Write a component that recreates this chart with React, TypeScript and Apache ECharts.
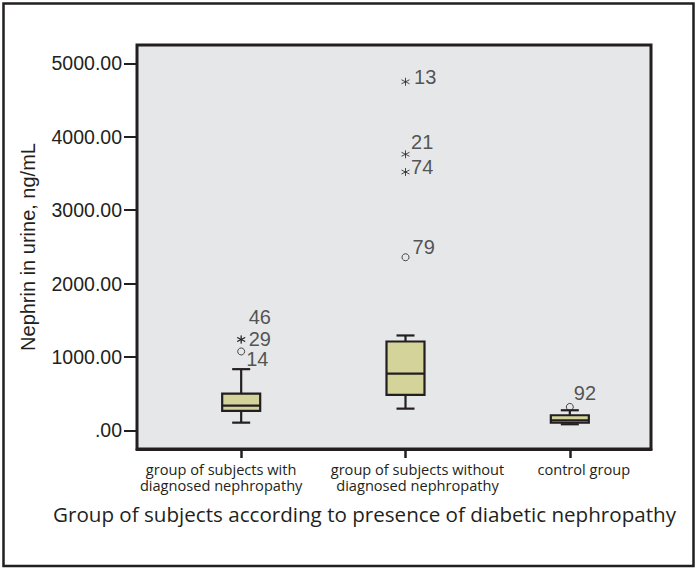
import React, { useEffect, useRef } from "react";
import * as echarts from "echarts";

// ---- data ----
const categories = [
  "group of subjects with\ndiagnosed nephropathy",
  "group of subjects without\ndiagnosed nephropathy",
  "control group",
];
const groupPositions = [1, 2, 3];
const whiskerMin = [104, 295, 82];
const quartile1 = [264, 482, 104];
const medians = [336, 773, 137];
const quartile3 = [500, 1210, 205];
const whiskerMax = [833, 1292, 273];

const outlierIds = ["13", "21", "74", "79", "46", "29", "14", "92"];
const outlierGroup = [2, 2, 2, 2, 1, 1, 1, 3];
const outlierValues = [4749, 3761, 3519, 2358, 1240, 1234, 1074, 318];
const outlierKind = ["extreme", "extreme", "extreme", "outlier", "extreme", "extreme", "outlier", "outlier"];

const yTickValues = [0, 1000, 2000, 3000, 4000, 5000];
const Y_MIN = -255;
const Y_MAX = 5250;
const X_MIN = 0.366;
const X_MAX = 3.494;

// ---- presentation ----
const categoryLabelAnchors = [0.878, 2.073, 3.085];
const outlierLabelOffset: Record<string, [number, number]> = {
  "13": [4, -5],
  "21": [1, -12],
  "74": [1, -5],
  "79": [3, -10],
  "46": [3, -22],
  "29": [3, -1],
  "14": [1, 8],
  "92": [0, -14],
};
const DARK = "#231f20";
const BOX_FILL = "#d3d39a";
const PLOT_BG = "#e6e7e8";
const ASTERISK = "path://M5,0L5,10M0.67,2.5L9.33,7.5M0.67,7.5L9.33,2.5";

export default function App() {
  const ref = useRef<HTMLDivElement>(null);

  useEffect(() => {
    if (!ref.current) return;
    const chart = echarts.init(ref.current, undefined, { renderer: "svg" });

    const boxData = groupPositions.map((p, i) => [
      p,
      whiskerMin[i],
      quartile1[i],
      medians[i],
      quartile3[i],
      whiskerMax[i],
    ]);

    const outlierData = outlierIds.map((id, i) => ({
      value: [outlierGroup[i], outlierValues[i]],
      name: id,
      symbol: outlierKind[i] === "extreme" ? ASTERISK : "circle",
      symbolSize: outlierKind[i] === "extreme" ? 8 : 7,
      label: { offset: outlierLabelOffset[id] },
    }));

    const option: any = {
      animation: false,
      backgroundColor: "#ffffff",
      grid: {
        left: 137,
        right: 45,
        top: 45,
        bottom: 121,
        show: true,
        backgroundColor: PLOT_BG,
        borderColor: DARK,
        borderWidth: 3,
      },
      xAxis: [
        {
          type: "value",
          position: "bottom",
          min: X_MIN,
          max: X_MAX,
          splitLine: { show: false },
          axisLine: { show: false, onZero: false },
          axisTick: { show: false },
          axisLabel: {
            customValues: categoryLabelAnchors,
            margin: 12,
            formatter: (v: number) => categories[Math.round(v) - 1] ?? "",
            fontFamily: "Open Sans",
            fontSize: 14.6,
            lineHeight: 16,
            color: DARK,
          },
        },
        {
          // second bottom axis used only for the category tick marks
          type: "value",
          position: "bottom",
          offset: 0,
          min: X_MIN,
          max: X_MAX,
          splitLine: { show: false },
          axisLine: { show: true, onZero: false, lineStyle: { color: DARK, width: 3 } },
          axisTick: {
            show: true,
            inside: false,
            customValues: groupPositions,
            length: 9,
            lineStyle: { color: DARK, width: 2.5 },
          },
          axisLabel: { show: false },
        },
      ],
      yAxis: {
        type: "value",
        min: Y_MIN,
        max: Y_MAX,
        splitLine: { show: false },
        axisLine: { show: false, onZero: false },
        axisTick: {
          show: true,
          customValues: yTickValues,
          length: 13,
          lineStyle: { color: DARK, width: 2 },
        },
        axisLabel: {
          customValues: yTickValues,
          margin: 15,
          formatter: (v: number) => (v === 0 ? ".00" : v.toFixed(2)),
          fontFamily: "Liberation Sans",
          fontSize: 19.5,
          color: DARK,
        },
        name: "Nephrin in urine, ng/mL",
        nameLocation: "middle",
        nameGap: 99,
        nameTextStyle: {
          fontFamily: "Liberation Sans",
          fontSize: 20,
          color: DARK,
        },
      },
      graphic: [
        {
          type: "rect",
          shape: { x: 3.5, y: 3.5, width: 690, height: 562.5 },
          style: { fill: "none", stroke: DARK, lineWidth: 2.5 },
          silent: true,
        },
        {
          type: "text",
          x: 364.5,
          y: 514,
          style: {
            text: "Group of subjects according to presence of diabetic nephropathy",
            fontFamily: "Open Sans",
            fontSize: 20.6,
            fill: DARK,
            align: "center",
            verticalAlign: "middle",
          },
          silent: true,
        },
      ],
      series: [
        {
          type: "custom",
          data: boxData,
          clip: false,
          encode: { x: 0, y: [1, 2, 3, 4, 5] },
          renderItem: (params: any, api: any) => {
            const x = api.value(0);
            const pMin = api.coord([x, api.value(1)]);
            const pQ1 = api.coord([x, api.value(2)]);
            const pMed = api.coord([x, api.value(3)]);
            const pQ3 = api.coord([x, api.value(4)]);
            const pMax = api.coord([x, api.value(5)]);
            const cx = pMed[0];
            const half = 19;
            const cap = 9;
            const ls = { stroke: DARK, lineWidth: 2.2 };
            return {
              type: "group",
              children: [
                { type: "line", shape: { x1: cx, y1: pQ3[1], x2: cx, y2: pMax[1] }, style: ls },
                { type: "line", shape: { x1: cx, y1: pQ1[1], x2: cx, y2: pMin[1] }, style: ls },
                { type: "line", shape: { x1: cx - cap, y1: pMax[1], x2: cx + cap, y2: pMax[1] }, style: ls },
                { type: "line", shape: { x1: cx - cap, y1: pMin[1], x2: cx + cap, y2: pMin[1] }, style: ls },
                {
                  type: "rect",
                  shape: { x: cx - half, y: pQ3[1], width: half * 2, height: pQ1[1] - pQ3[1] },
                  style: { fill: BOX_FILL, stroke: DARK, lineWidth: 2.2 },
                },
                { type: "line", shape: { x1: cx - half, y1: pMed[1], x2: cx + half, y2: pMed[1] }, style: ls },
              ],
            };
          },
          z: 2,
        },
        {
          type: "scatter",
          data: outlierData,
          itemStyle: { color: "transparent", borderColor: DARK, borderWidth: 1 },
          label: {
            show: true,
            position: "right",
            distance: 0,
            formatter: (p: any) => p.name,
            fontFamily: "Liberation Sans",
            fontSize: 20,
            color: "#2b2b2b",
          },
          z: 3,
        },
      ],
    };

    chart.setOption(option);
    return () => chart.dispose();
  }, []);

  return (
    <div
      ref={ref}
      style={{ position: "fixed", left: 0, top: 0, width: 696, height: 570, background: "#fff" }}
    />
  );
}
